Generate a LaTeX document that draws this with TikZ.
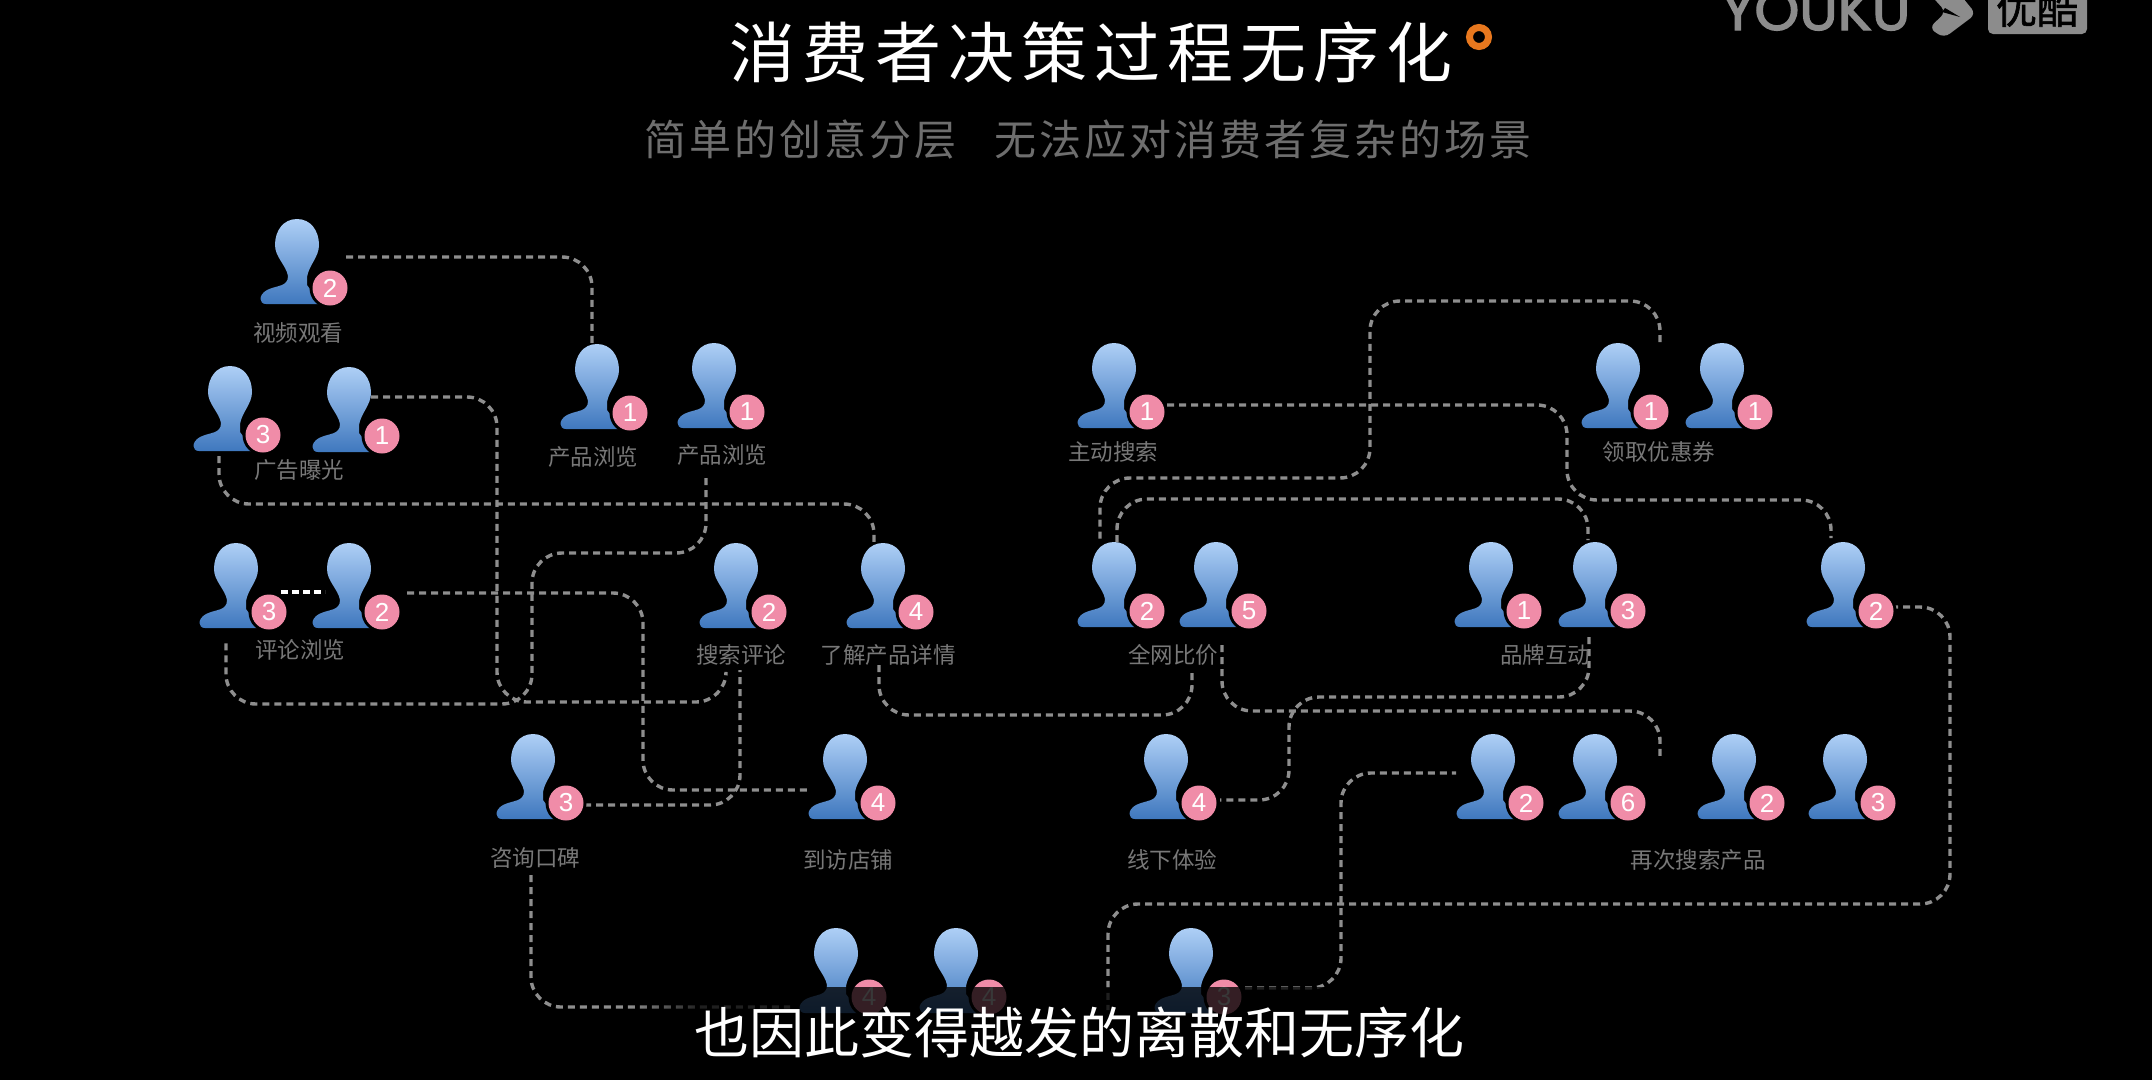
\documentclass[tikz,border=0pt]{standalone}
\usepackage{fontspec}
\setmainfont{Noto Sans CJK SC}
\newfontfamily\numfont{Liberation Sans}
\newfontfamily\logofont[FakeBold=2.5]{Poppins}
\newfontfamily\logocjk[FakeBold=1.5]{Noto Sans CJK SC}
\usetikzlibrary{fadings}
\definecolor{conn}{HTML}{8E8E8E}
\definecolor{bluetop}{HTML}{AECFF6}
\definecolor{bluebot}{HTML}{3F78BE}
\definecolor{pink}{HTML}{F08CA8}
\definecolor{labelgray}{HTML}{787878}
\definecolor{subgray}{HTML}{6E6E6E}
\definecolor{logogray}{HTML}{8C8C8C}
\definecolor{ringorange}{HTML}{E8781E}
\tikzset{
  x=1pt,y=-1pt,
  flow/.style={draw=conn,line width=3.4pt,dash pattern=on 7pt off 5pt,rounded corners=30pt},
  lab/.style={text=labelgray,font=\fontsize{22.5}{22.5}\selectfont,inner sep=0pt},
  badgecirc/.style={circle,fill=pink,text=white,minimum size=35pt,inner sep=0pt,font=\numfont\fontsize{26}{26}\selectfont},
  pics/person/.style={code={
    \shade[top color=bluetop,bottom color=bluebot]
      (1,0) .. controls (15,0) and (23,12) .. (23,26)
      .. controls (23,38) and (13,46) .. (11,58)
      -- (11,66) -- (25,85) -- (-30,85)
      .. controls (-37,85) and (-38,76) .. (-29,71)
      .. controls (-19,66) and (-8,68) .. (-8,57)
      .. controls (-10,46) and (-21,38) .. (-21,26)
      .. controls (-21,12) and (-13,0) .. (1,0) -- cycle;
    \fill[black] (34,69) circle[radius=20.5];
    \node[badgecirc] (-badge) at (34,69) {#1};
  }}
}
\begin{document}
\begin{tikzpicture}
\clip (0,0) rectangle (2152,1080);
\fill[black] (0,0) rectangle (2152,1080);

% title
\node[text=white,font=\fontsize{66}{66}\selectfont,inner sep=0pt] (title) at (1091,52)
  {消\kern7pt费\kern7pt者\kern7pt决\kern7pt策\kern7pt过\kern7pt程\kern7pt无\kern7pt序\kern7pt化};
\draw[ringorange,line width=7pt] (1479,37) circle[radius=9.5];
\node[text=subgray,font=\fontsize{42}{42}\selectfont,inner sep=0pt] (subtitle) at (1088,140)
  {简\kern3pt单\kern3pt的\kern3pt创\kern3pt意\kern3pt分\kern3pt层\kern38pt无\kern3pt法\kern3pt应\kern3pt对\kern3pt消\kern3pt费\kern3pt者\kern3pt复\kern3pt杂\kern3pt的\kern3pt场\kern3pt景};

% logo
\node[text=logogray,font=\logofont\fontsize{57}{57}\selectfont,anchor=base west,inner sep=0pt] (youku) at (1721,30) {YOUKU};
\fill[logogray,rounded corners=7pt] (1928,-8) -- (1958,-8) -- (1976,14) -- (1944,38) -- (1929,28) -- (1946,12) -- cycle;
\fill[black] (1945,8) -- (1960,17) -- (1942,12) -- cycle;
\fill[logogray,rounded corners=5pt] (1988,-10) rectangle (2087,34);
\node[text=black,font=\logocjk\fontsize{41}{41}\selectfont,inner sep=0pt] (youkucn) at (2037,8) {优酷};

% connectors
\coordinate (c1a) at (346,257); \coordinate (c1b) at (592,343);
\draw[flow] (c1a) -| (c1b);
\coordinate (c2a) at (371,397); \coordinate (c2b) at (726,673);
\draw[flow] (c2a) -- (497,397) -- (497,702) -- (726,702) -- (c2b);
\coordinate (c3a) at (219,456); \coordinate (c3b) at (874,542);
\draw[flow] (c3a) |- (874,504) -- (c3b);
\coordinate (c4a) at (706,478); \coordinate (c4b) at (226,640);
\draw[flow] (c4a) -- (706,553) -- (532,553) -- (532,704) -- (226,704) -- (c4b);
\coordinate (c5a) at (281,592); \coordinate (c5b) at (325,592);
\draw[white,line width=3.5pt,dash pattern=on 7pt off 4pt] (c5a) -- (c5b);
\coordinate (c6a) at (407,593); \coordinate (c6b) at (808,790);
\draw[flow] (c6a) -- (643,593) -- (643,790) -- (c6b);
\coordinate (c7a) at (584,805); \coordinate (c7b) at (740,670);
\draw[flow] (c7a) -| (c7b);
\coordinate (c8a) at (879,665); \coordinate (c8b) at (1192,670);
\draw[flow] (c8a) -- (879,715) -- (1192,715) -- (c8b);
\coordinate (c9a) at (1222,645); \coordinate (c9b) at (1660,760);
\draw[flow] (c9a) -- (1222,711) -- (1660,711) -- (c9b);
\coordinate (c10a) at (1589,637); \coordinate (c10b) at (1220,800);
\draw[flow] (c10a) -- (1589,697) -- (1289,697) -- (1289,800) -- (c10b);
\coordinate (c11a) at (1167,405); \coordinate (c11b) at (1831,538);
\draw[flow] (c11a) -- (1567,405) -- (1567,500) -- (1831,500) -- (c11b);
\coordinate (c12a) at (1660,342); \coordinate (c12b) at (1100,542);
\draw[flow] (c12a) -- (1660,301) -- (1370,301) -- (1370,478) -- (1100,478) -- (c12b);
\coordinate (c13a) at (1117,542); \coordinate (c13b) at (1588,540);
\draw[flow] (c13a) -- (1117,499) -- (1588,499) -- (c13b);
\coordinate (c14a) at (1891,607); \coordinate (c14b) at (1108,1010);
\draw[flow] (c14a) -- (1950,607) -- (1950,904) -- (1108,904) -- (c14b);
\coordinate (c15a) at (1245,988); \coordinate (c15b) at (1456,773);
\draw[flow] (c15a) -- (1341,988) -- (1341,773) -- (c15b);
\coordinate (c16a) at (531,875); \coordinate (c16b) at (790,1007);
\draw[flow] (c16a) |- (c16b);

% people
\pic (p1) at (296,219) {person=2};
\pic (p2) at (229,366) {person=3};
\pic (p3) at (348,367) {person=1};
\pic (p4) at (596,344) {person=1};
\pic (p5) at (713,343) {person=1};
\pic (p6) at (1113,343) {person=1};
\pic (p7) at (1617,343) {person=1};
\pic (p8) at (1721,343) {person=1};
\pic (p9) at (235,543) {person=3};
\pic (p10) at (348,543) {person=2};
\pic (p11) at (735,543) {person=2};
\pic (p12) at (882,543) {person=4};
\pic (p13) at (1113,542) {person=2};
\pic (p14) at (1215,542) {person=5};
\pic (p15) at (1490,542) {person=1};
\pic (p16) at (1594,542) {person=3};
\pic (p17) at (1842,542) {person=2};
\pic (p18) at (532,734) {person=3};
\pic (p19) at (844,734) {person=4};
\pic (p20) at (1165,734) {person=4};
\pic (p21) at (1492,734) {person=2};
\pic (p22) at (1594,734) {person=6};
\pic (p23) at (1733,734) {person=2};
\pic (p24) at (1844,734) {person=3};
\pic (p25) at (835,928) {person=4};
\pic (p26) at (955,928) {person=4};
\pic (p27) at (1190,928) {person=3};

% labels
\node[lab] (l1) at (298,333) {视频观看};
\node[lab] (l2) at (299,470) {广告曝光};
\node[lab] (l3) at (593,457) {产品浏览};
\node[lab] (l4) at (722,455) {产品浏览};
\node[lab] (l5) at (1113,452) {主动搜索};
\node[lab] (l6) at (1659,452) {领取优惠券};
\node[lab] (l7) at (300,650) {评论浏览};
\node[lab] (l8) at (741,655) {搜索评论};
\node[lab] (l9) at (888,655) {了解产品详情};
\node[lab] (l10) at (1173,655) {全网比价};
\node[lab] (l11) at (1545,655) {品牌互动};
\node[lab] (l12) at (535,858) {咨询口碑};
\node[lab] (l13) at (848,860) {到访店铺};
\node[lab] (l14) at (1172,860) {线下体验};
\node[lab] (l15) at (1698,860) {再次搜索产品};

% caption band
\fill[black,opacity=.78] (700,987) rectangle (1480,1080);
\fill[black,opacity=.78,path fading=west] (630,987) rectangle (700,1080);
\node[text=white,font=\fontsize{55}{55}\selectfont,inner sep=0pt] (caption) at (1079,1032) {也因此变得越发的离散和无序化};
\end{tikzpicture}
\end{document}
